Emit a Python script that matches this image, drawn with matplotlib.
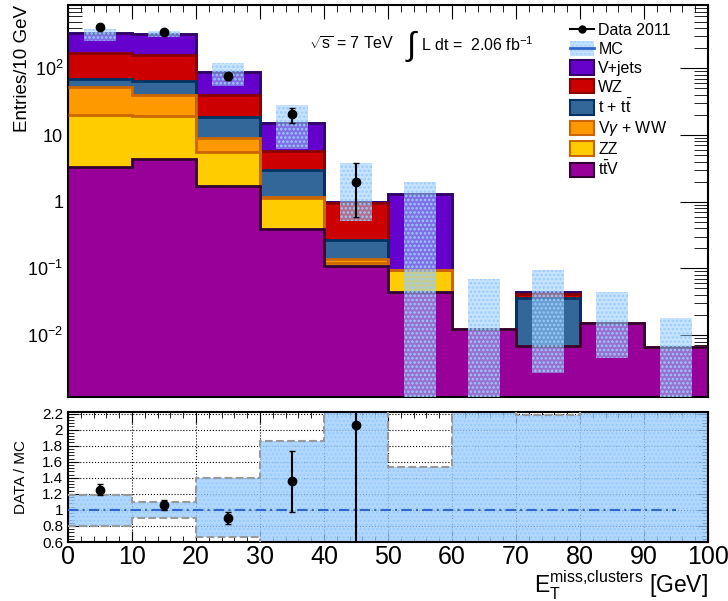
import numpy as np
import matplotlib
matplotlib.use('Agg')
import matplotlib.pyplot as plt
from matplotlib.patches import Patch
from matplotlib.lines import Line2D
import matplotlib.ticker as ticker

plt.rcParams['font.family'] = ['Liberation Sans', 'DejaVu Sans']
plt.rcParams['mathtext.fontset'] = 'custom'
plt.rcParams['mathtext.rm'] = 'Liberation Sans'
plt.rcParams['mathtext.it'] = 'Liberation Sans:italic'
plt.rcParams['hatch.linewidth'] = 1.2

edges = np.arange(0, 101, 10)
centers = edges[:-1] + 5

# stacked backgrounds, bottom to top
ttV = [3.3, 4.4, 1.74, 0.39, 0.109, 0.045, 0.0122, 0.0069, 0.0150, 0.0066]
ZZ = [16.7, 14.9, 3.86, 0.73, 0.010, 0.050, 0, 0, 0, 0]
VgWW = [32, 20.7, 3.3, 0.04, 0.018, 0, 0, 0, 0, 0]
ttop = [17, 25, 9.5, 1.84, 0.13, 0, 0, 0.0287, 0, 0]
WZ = [102, 93, 21.6, 2.8, 0.68, 0, 0, 0.0057, 0, 0]
Vjets = [163, 168, 47, 9.5, 0.054, 1.195, 0, 0.003, 0, 0]

# MC uncertainty band (top panel)
band_lo = [260, 292, 54, 6.2, 0.52, 1e-5, 1e-5, 0.0027, 0.0046, 1e-5]
band_hi = [395, 361, 119, 28, 3.8, 1.95, 0.069, 0.095, 0.044, 0.018]

# data
data_x = [5, 15, 25, 35, 45]
data_y = [418, 345, 76, 20.5, 2.0]
data_elo = [20, 19, 9, 5.3, 1.4]
data_ehi = [20, 19, 9, 4.7, 1.8]

# ratio panel
ratio_lo = [0.80, 0.90, 0.66, 0.50, 0.40, 0.0, 0.0, 0.0, 0.0, 0.0]
ratio_hi = [1.19, 1.10, 1.40, 1.86, 3.0, 1.54, 3.0, 2.18, 3.0, 3.0]
ratio_y = [1.25, 1.06, 0.90, 1.36, 2.06]
ratio_elo = [0.07, 0.06, 0.08, 0.38, 2.0]
ratio_ehi = [0.07, 0.06, 0.08, 0.38, 2.0]

comps = [ttV, ZZ, VgWW, ttop, WZ, Vjets]
labels = [r't$\bar{\mathrm{t}}$V', 'ZZ', r'V$\gamma$ + WW', r't + t$\bar{\mathrm{t}}$', 'WZ', 'V+jets']
fills = ['#990099', '#ffcc00', '#ff9900', '#336699', '#cc0000', '#6600cc']
lines = ['#330033', '#cc6600', '#cc6600', '#003366', '#880000', '#330066']
band_col = '#99ccff'
mc_col = '#3366cc'

fig = plt.figure(figsize=(7.28, 6.01), dpi=100)
ax = fig.add_axes([68/728, 1-397/601, 640/728, 392/601])
axr = fig.add_axes([68/728, 1-542/601, 640/728, 130/601])

# stack (lower components drawn on top, like THStack)
base = np.full(10, 1e-6)
n = len(comps)
for i, (vals, fc, lc) in enumerate(zip(comps, fills, lines)):
    top = base + np.array(vals)
    ax.stairs(top, edges, baseline=base, fill=True, color=fc, zorder=2)
    ax.stairs(top, edges, baseline=None, color=lc, lw=2, zorder=3 + 0.1*(n - i))
    base = top
ax.stairs(base, edges, baseline=None, color=mc_col, lw=2, zorder=2.9)

# MC uncertainty
lo = np.array(band_lo)
hi = np.array(band_hi)
ax.bar(centers, hi-lo, bottom=lo, width=5, color=band_col, alpha=0.55, lw=0, zorder=5)
ax.bar(centers, hi-lo, bottom=lo, width=5, facecolor='none', edgecolor=band_col,
       hatch='....', lw=0, zorder=5)

ax.errorbar(data_x, data_y, yerr=[data_elo, data_ehi], fmt='o', color='k', ms=6,
            lw=1.5, capsize=2, zorder=6)

ax.set_yscale('log')
ax.set_xlim(0, 100)
ax.set_ylim(1.18e-3, 890)
ax.yaxis.set_major_locator(ticker.FixedLocator([1e-2, 1e-1, 1, 10, 100]))
ax.yaxis.set_major_formatter(ticker.FixedFormatter(['$10^{-2}$', '$10^{-1}$', '1', '10', '$10^{2}$']))
ax.yaxis.set_minor_locator(ticker.LogLocator(base=10, subs=np.arange(2, 10)))
ax.yaxis.set_minor_formatter(ticker.NullFormatter())
ax.xaxis.set_major_locator(ticker.MultipleLocator(10))
ax.xaxis.set_minor_locator(ticker.MultipleLocator(2))
ax.tick_params(which='both', direction='in', top=True, right=True, labelsize=13)
ax.tick_params(axis='y', which='major', length=20)
ax.tick_params(axis='y', which='minor', length=10)
ax.tick_params(axis='x', which='major', length=10)
ax.tick_params(axis='x', which='minor', length=5)
ax.tick_params(axis='x', labelbottom=False)
ax.set_ylabel('Entries/10 GeV', fontsize=13.5, loc='top')
ax.yaxis.set_label_coords(-0.058, 1.0)

ax.text(0.377, 0.90, r'$\sqrt{\mathrm{s}}$ = 7 TeV', transform=ax.transAxes, fontsize=11.5, va='center')
ax.text(0.537, 0.895, r'$\int$', transform=ax.transAxes, fontsize=24, va='center', ha='center')
ax.text(0.552, 0.90, r'L dt =  2.06 fb$^{\mathrm{-1}}$', transform=ax.transAxes, fontsize=11.5, va='center')

handles = [Line2D([], [], color='k', marker='o', ms=5, lw=1.5),
           (Patch(facecolor=band_col, alpha=0.6, hatch='....', edgecolor=band_col, lw=0),
            Line2D([], [], color=mc_col, lw=2))]
for fc, lc in zip(fills[::-1], lines[::-1]):
    handles.append(Patch(facecolor=fc, edgecolor=lc, lw=1.5))
leg_labels = ['Data 2011', 'MC'] + labels[::-1]
ax.legend(handles, leg_labels, loc='upper left', bbox_to_anchor=(0.785, 0.955), frameon=False,
          fontsize=11.5, handlelength=1.45, handleheight=1.0, handletextpad=0.3,
          labelspacing=0.2, borderpad=0, borderaxespad=0)

# ratio panel
axr.stairs(ratio_hi, edges, baseline=ratio_lo, fill=True, color=band_col, alpha=0.75, lw=0, zorder=2)
axr.stairs(ratio_hi, edges, baseline=ratio_lo, fill=False, hatch='....', color=band_col, lw=0, zorder=2)
axr.stairs(ratio_hi, edges, baseline=None, color='#999999', ls='--', lw=1.5, zorder=3)
axr.stairs(ratio_lo, edges, baseline=None, color='#999999', ls='--', lw=1.5, zorder=3)
axr.plot([0, 95], [1, 1], color=mc_col, lw=1.5, ls=(0, (5, 2, 1, 2)), zorder=4)
axr.errorbar(data_x, ratio_y, yerr=[ratio_elo, ratio_ehi], fmt='o', color='k', ms=6,
             lw=1.5, capsize=2, zorder=6)

axr.set_xlim(0, 100)
axr.set_ylim(0.6, 2.22)
axr.yaxis.set_major_locator(ticker.MultipleLocator(0.2))
axr.yaxis.set_minor_locator(ticker.MultipleLocator(0.04))
axr.yaxis.set_major_formatter(ticker.FuncFormatter(lambda v, p: ('%.1f' % v).replace('.0', '') if abs(v - 1) > 1e-6 and abs(v - 2) > 1e-6 else '%d' % round(v)))
axr.xaxis.set_major_locator(ticker.MultipleLocator(10))
axr.xaxis.set_minor_locator(ticker.MultipleLocator(2))
axr.grid(True, which='major', ls=':', color='k', lw=0.8, zorder=1)
axr.set_axisbelow(True)
axr.tick_params(which='both', direction='in', top=True, right=True)
axr.tick_params(axis='y', which='major', length=8, labelsize=11)
axr.tick_params(axis='y', which='minor', length=4)
axr.tick_params(axis='x', which='major', length=8, labelsize=18, pad=2)
axr.tick_params(axis='x', which='minor', length=4)
axr.set_ylabel('DATA / MC', fontsize=11)
axr.yaxis.set_label_coords(-0.062, 0.5)
axr.set_xlabel(r'E$_{\mathrm{T}}^{\mathrm{miss{,}clusters}}$ [GeV]', fontsize=16.5, loc='right', labelpad=0)
for a in (ax, axr):
    for s in a.spines.values():
        s.set_linewidth(1.5)

fig.savefig('out.png', dpi=100)
